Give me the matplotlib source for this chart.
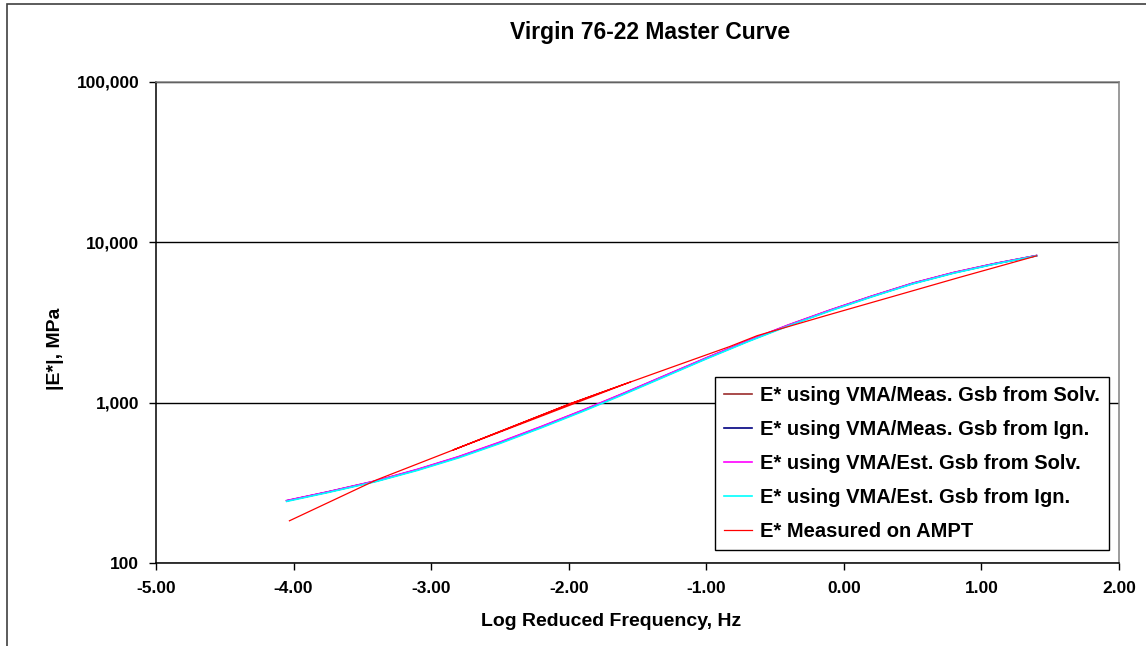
import numpy as np
import matplotlib
matplotlib.use("Agg")
import matplotlib.pyplot as plt
from matplotlib.ticker import FuncFormatter, FixedLocator, NullLocator
from matplotlib.patches import Rectangle

plt.rcParams['font.family'] = ['Liberation Sans', 'DejaVu Sans']
plt.rcParams['font.weight'] = 'bold'

# log reduced frequency (Hz) for the fitted master curves
fit_freq = [-4.05, -3.75, -3.40, -3.10, -2.80, -2.50, -2.20, -1.90, -1.60, -1.30,
            -1.00, -0.70, -0.40, -0.10, 0.20, 0.50, 0.80, 1.10, 1.40]

# |E*| in MPa for each predicted series
e_meas_solv = [245, 278, 326, 383, 460, 566, 708, 894, 1143, 1473,
               1898, 2424, 3052, 3772, 4600, 5545, 6470, 7365, 8252]
e_meas_ign = [245, 278, 325, 382, 458, 563, 704, 890, 1138, 1467,
              1890, 2415, 3041, 3760, 4587, 5530, 6453, 7350, 8245]
e_est_solv = [246, 279, 327, 385, 462, 569, 711, 898, 1148, 1479,
              1905, 2432, 3062, 3784, 4613, 5559, 6486, 7379, 8260]
e_est_ign = [243, 276, 323, 379, 454, 558, 698, 882, 1128, 1455,
             1876, 2398, 3020, 3735, 4560, 5500, 6420, 7320, 8230]

# measured AMPT data in test order (temperature groups overlap in frequency)
ampt_freq = [-4.03, -3.40, -2.84, -2.40, -1.99, -1.55,
             -2.84, -2.40, -1.99, -1.63, -1.20, -0.83, -0.63, -0.13, 0.36, 0.84, 1.40]
ampt_mod = [184, 330, 508, 716, 986, 1349,
            508, 716, 986, 1274, 1726, 2239, 2618, 3491, 4603, 6039, 8222]

labels = ['E* using VMA/Meas. Gsb from Solv.',
          'E* using VMA/Meas. Gsb from Ign.',
          'E* using VMA/Est. Gsb from Solv.',
          'E* using VMA/Est. Gsb from Ign.',
          'E* Measured on AMPT']
colors = ['#9B2C2C', '#000080', '#FF00FF', '#00FFFF', '#FF0000']

W, H = 1146, 646
fig = plt.figure(figsize=(W / 100, H / 100), dpi=100)
ax = fig.add_axes([156 / W, 1 - 563.3 / H, (1119 - 156) / W, (563.3 - 81.7) / H])

for vals, lab, col in zip([e_meas_solv, e_meas_ign, e_est_solv, e_est_ign],
                          labels[:4], colors[:4]):
    ax.plot(fit_freq, vals, color=col, lw=1.2, label=lab)
ax.plot(ampt_freq, ampt_mod, color=colors[4], lw=0.9, label=labels[4])

ax.set_yscale('log')
ax.set_ylim(100, 100000)
ax.set_xlim(-5, 2)
ax.xaxis.set_major_locator(FixedLocator(np.arange(-5, 2.5, 1)))
ax.xaxis.set_major_formatter(FuncFormatter(lambda v, p: f'{v:.2f}'))
ax.yaxis.set_major_locator(FixedLocator([100, 1000, 10000, 100000]))
ax.yaxis.set_minor_locator(NullLocator())
ax.yaxis.set_major_formatter(FuncFormatter(lambda v, p: f'{v:,.0f}'))
ax.tick_params(axis='both', which='major', direction='out', length=5, width=1,
               labelsize=12.5, color='black')
ax.tick_params(axis='y', pad=7)
ax.tick_params(axis='x', pad=8)
for t in ax.get_xticklabels() + ax.get_yticklabels():
    t.set_fontweight('bold')

ax.yaxis.grid(True, which='major', color='black', lw=1)
ax.set_axisbelow(True)
for side in ['left', 'bottom']:
    ax.spines[side].set_color('black')
    ax.spines[side].set_linewidth(1.1)
for side in ['top', 'right']:
    ax.spines[side].set_color('#808080')
    ax.spines[side].set_linewidth(1.1)

leg = ax.legend(loc='upper left', bbox_to_anchor=(0.580, 0.387), borderaxespad=0,
                prop={'size': 14.5, 'weight': 'bold'}, handlelength=1.4,
                handletextpad=0.4, labelspacing=0.74, borderpad=0.45,
                fancybox=False, framealpha=1, edgecolor='black')
leg.get_frame().set_linewidth(1)

fig.text(650 / W, 1 - 33 / H, 'Virgin 76-22 Master Curve', ha='center', va='center',
         fontsize=16.5, fontweight='bold')
fig.text(611 / W, 1 - 621 / H, 'Log Reduced Frequency, Hz', ha='center', va='center',
         fontsize=14, fontweight='bold')
fig.text(55 / W, 1 - 349 / H, '|E*|, MPa', ha='center', va='center', rotation=90,
         fontsize=14, fontweight='bold')

# outer chart frame (right and bottom edges fall outside the image)
fig.patches.append(Rectangle((7 / W, -0.1), 1.5, 1.1 - 4 / H, transform=fig.transFigure,
                             fill=False, edgecolor='#404040', lw=1.2))

fig.savefig('out.png', dpi=100)
